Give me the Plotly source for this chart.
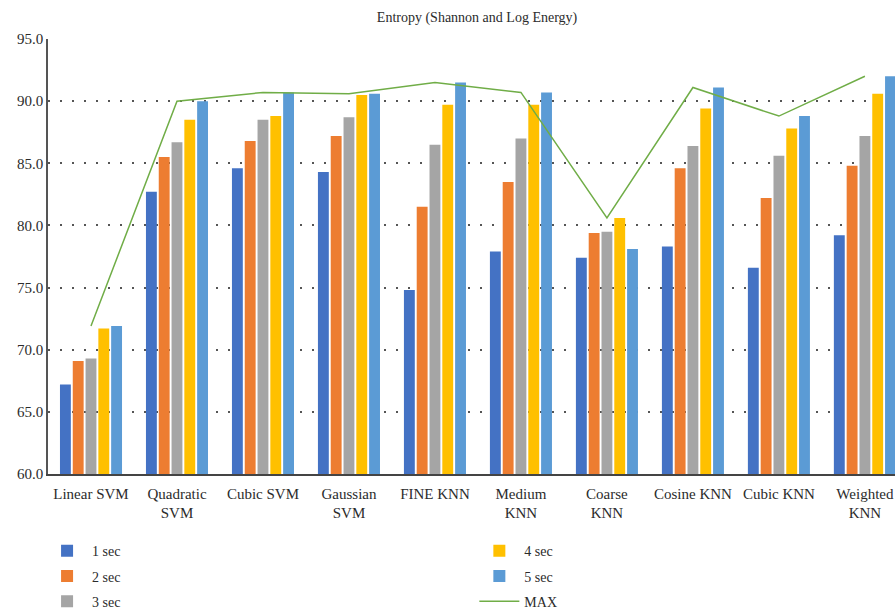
import plotly.graph_objects as go

categories = ["Linear SVM", "Quadratic<br>SVM", "Cubic SVM", "Gaussian<br>SVM", "FINE KNN",
              "Medium<br>KNN", "Coarse<br>KNN", "Cosine KNN", "Cubic KNN", "Weighted<br>KNN"]
sec1 = [67.2, 82.7, 84.6, 84.3, 74.8, 77.9, 77.4, 78.3, 76.6, 79.2]
sec2 = [69.1, 85.5, 86.8, 87.2, 81.5, 83.5, 79.4, 84.6, 82.2, 84.8]
sec3 = [69.3, 86.7, 88.5, 88.7, 86.5, 87.0, 79.5, 86.4, 85.6, 87.2]
sec4 = [71.7, 88.5, 88.8, 90.5, 89.7, 89.7, 80.6, 89.4, 87.8, 90.6]
sec5 = [71.9, 90.0, 90.7, 90.6, 91.5, 90.7, 78.1, 91.1, 88.8, 92.0]
max_vals = [71.9, 90.0, 90.7, 90.6, 91.5, 90.7, 80.6, 91.1, 88.8, 92.0]

series = [("1 sec", sec1, "#4472C4", "legend"),
          ("2 sec", sec2, "#ED7D31", "legend"),
          ("3 sec", sec3, "#A5A5A5", "legend"),
          ("4 sec", sec4, "#FFC000", "legend2"),
          ("5 sec", sec5, "#5B9BD5", "legend2")]

fig = go.Figure()
for name, vals, color, lg in series:
    fig.add_trace(go.Bar(x=categories, y=vals, name=name, marker=dict(color=color, line=dict(width=0)),
                         legend=lg, legendgroup=name))
fig.add_trace(go.Scatter(x=categories, y=max_vals, name="MAX", mode="lines",
                         line=dict(color="#70AD47", width=1.5), legend="legend2", legendgroup="MAX"))

serif = "Liberation Serif"
fig.update_layout(
    width=895, height=611,
    margin=dict(l=48, r=0, t=39, b=137, autoexpand=False),
    paper_bgcolor="white", plot_bgcolor="white",
    barmode="group", bargap=0.256, bargroupgap=0.15,
    font=dict(family=serif, color="#2b2b2b", size=15),
    title=dict(text="Entropy (Shannon and Log Energy)", x=0.533, xanchor="center",
               y=0.972, yanchor="middle", font=dict(family=serif, size=14, color="#2b2b2b")),
    xaxis=dict(range=[-0.5, 9.35], showgrid=False, showline=True, linecolor="#444444", linewidth=1.5,
               ticks="", tickangle=0, automargin=False, ticklabelstandoff=5,
               tickfont=dict(family=serif, size=15, color="#2b2b2b")),
    yaxis=dict(range=[60, 95], dtick=5, tickformat=".1f", showgrid=True, gridcolor="#555555",
               gridwidth=1.7, griddash="1.7px,10.3px", showline=True, linecolor="#555555", linewidth=1.5,
               ticks="", zeroline=False, automargin=False,
               tickfont=dict(family=serif, size=15, color="#2b2b2b")),
    legend=dict(xref="container", yref="container", x=0.047, y=0.124, xanchor="left", yanchor="top",
                orientation="v", tracegroupgap=4, font=dict(family=serif, size=14, color="#2b2b2b"),
                bgcolor="rgba(0,0,0,0)", itemwidth=40),
    legend2=dict(xref="container", yref="container", x=0.53, y=0.124, xanchor="left", yanchor="top",
                 orientation="v", tracegroupgap=4, font=dict(family=serif, size=14, color="#2b2b2b"),
                 bgcolor="rgba(0,0,0,0)", itemwidth=40),
)

fig.write_html("out.html", config={"displayModeBar": False},
               post_script="document.body.style.margin='0';document.body.style.overflow='hidden';")
